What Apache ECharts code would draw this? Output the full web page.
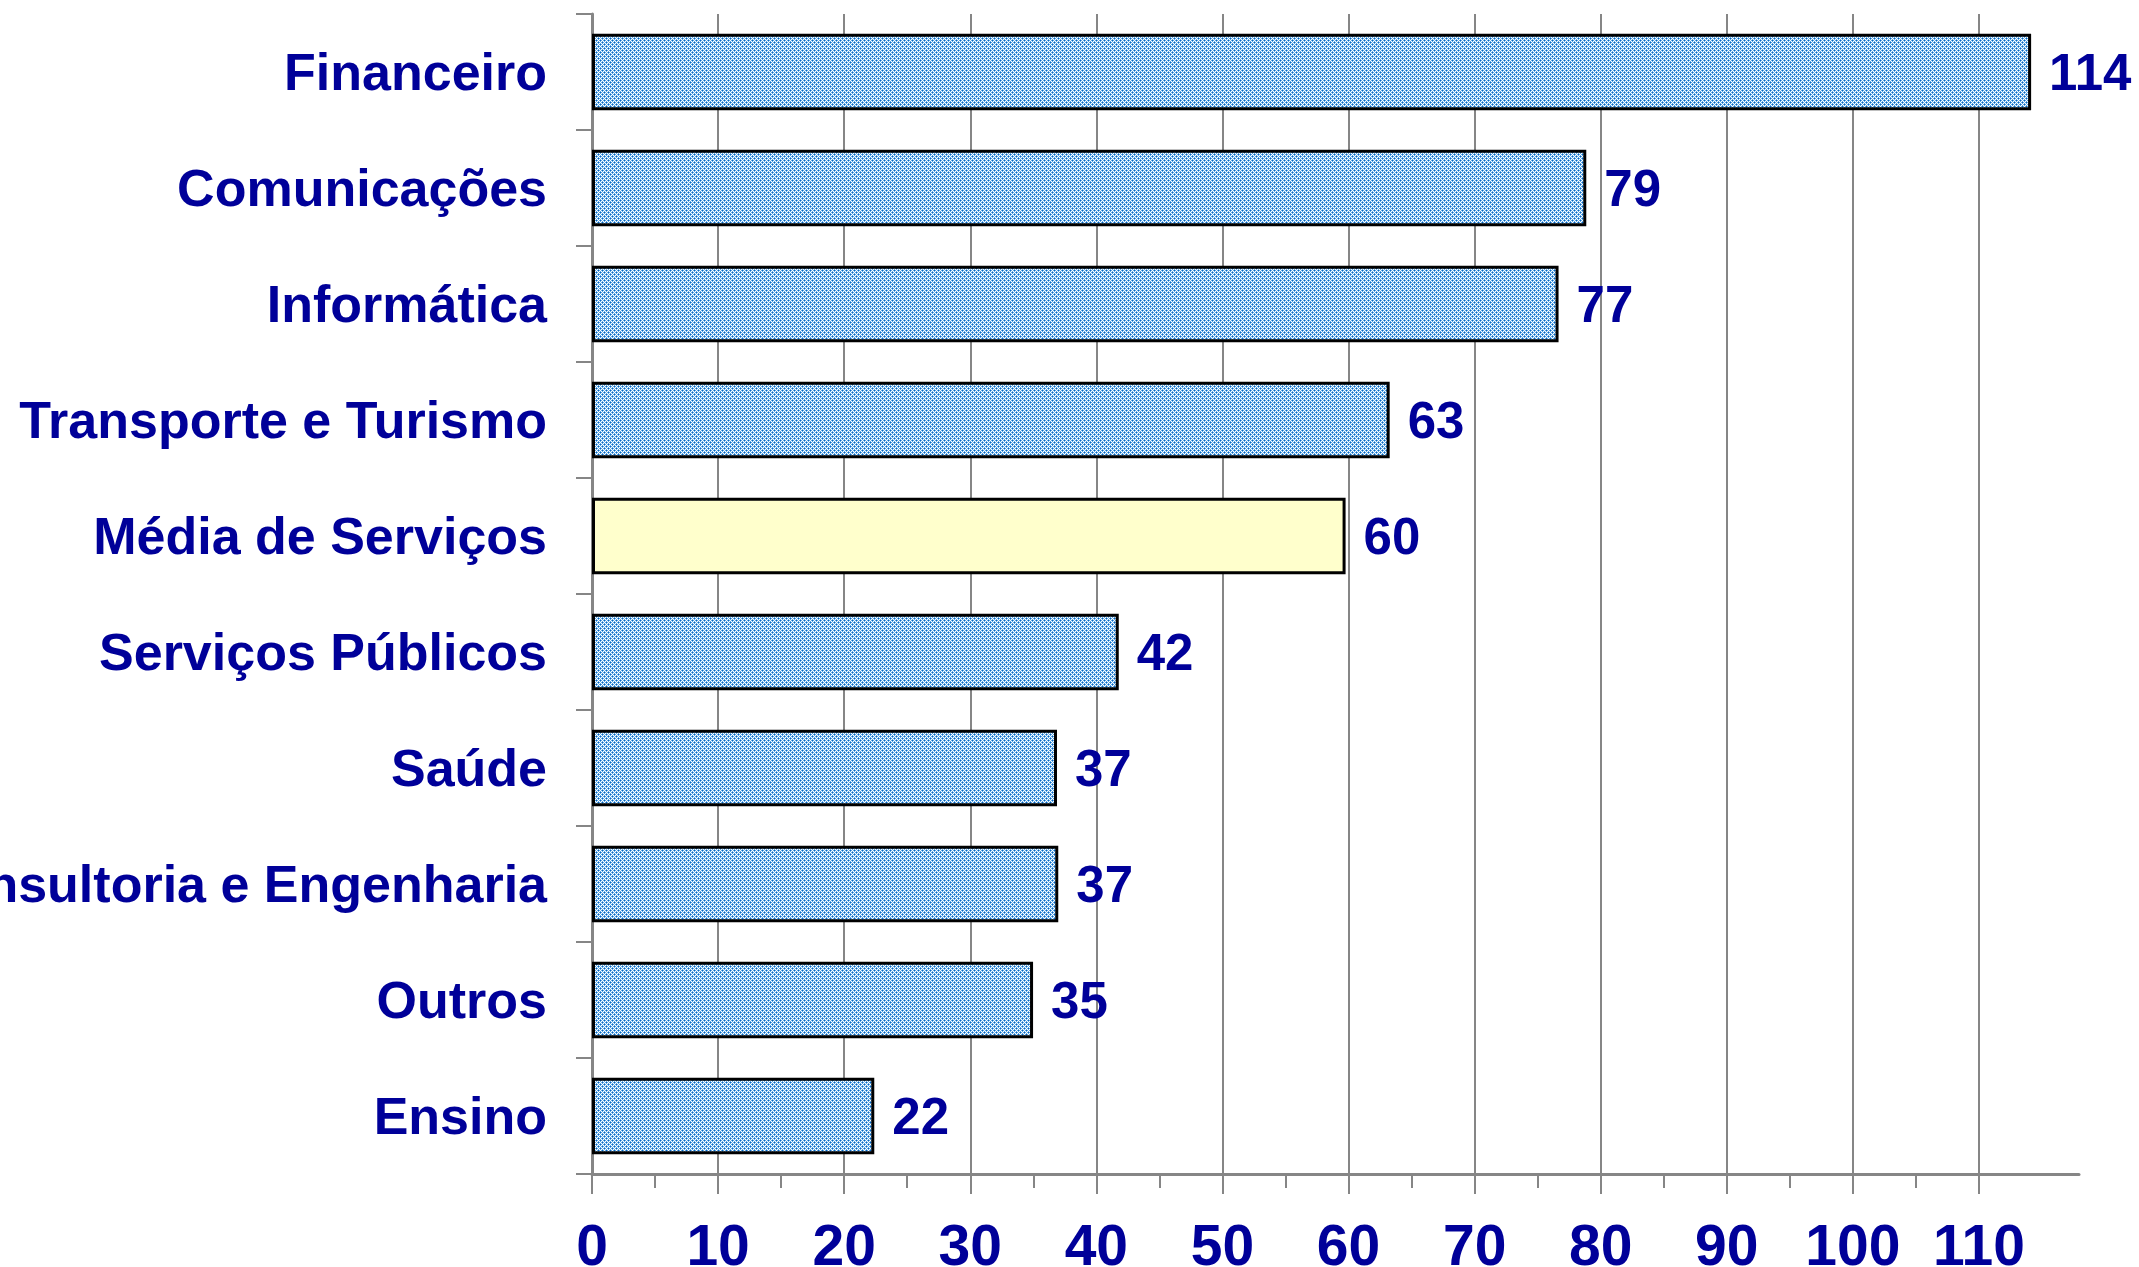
<!DOCTYPE html>
<html>
<head>
<meta charset="utf-8">
<script src="https://cdn.jsdelivr.net/npm/echarts@6/dist/echarts.min.js"></script>
<style>
  html, body { margin: 0; padding: 0; background: #fff; }
  #chart { width: 2139px; height: 1267px; }
</style>
</head>
<body>
<div id="chart"></div>
<script>
var categories = ['Financeiro', 'Comunicações', 'Informática', 'Transporte e Turismo', 'Média de Serviços',
                  'Serviços Públicos', 'Saúde', 'Consultoria e Engenharia', 'Outros', 'Ensino'];
var values = [114.2, 78.9, 76.7, 63.3, 59.8, 41.8, 36.9, 37.0, 35.0, 22.4];
var highlight = 'Média de Serviços';

// blue dotted fill like the excel pattern
function makePattern() {
    var tile = [
        'DLWL',
        'LWLW',
        'WLDL',
        'LWLW'
    ];
    var colors = { D: '#0a66c2', L: '#62a9e4', W: '#ffffff' };
    var c = document.createElement('canvas');
    c.width = 4; c.height = 4;
    var ctx = c.getContext('2d');
    for (var y = 0; y < 4; y++) {
        for (var x = 0; x < 4; x++) {
            ctx.fillStyle = colors[tile[y].charAt(x)];
            ctx.fillRect(x, y, 1, 1);
        }
    }
    return c;
}

var textColor = '#000099';
var gridColor = '#868686';
var pattern = { image: makePattern(), repeat: 'repeat' };

var barData = [];
for (var i = 0; i < categories.length; i++) {
    var item = { value: values[i] };
    if (categories[i] == highlight) {
        item.itemStyle = { color: '#ffffcc' };
    }
    barData.push(item);
}

var myChart = echarts.init(document.getElementById('chart'));
var option = {
    backgroundColor: '#ffffff',
    animation: false,
    textStyle: { fontFamily: 'Liberation Sans, Arial, sans-serif' },
    grid: [
        { left: 592, top: 14, width: 1487, height: 1160, containLabel: false, outerBoundsMode: 'none' },
        { left: 592, top: 14, width: 1387, height: 1160, containLabel: false, outerBoundsMode: 'none' }
    ],
    xAxis: [
        {
            gridIndex: 0, type: 'value', min: 0, max: 118,
            axisLine: { show: true, lineStyle: { color: gridColor, width: 3 } },
            axisTick: { show: false },
            axisLabel: { show: false },
            splitLine: { show: false }
        },
        {
            gridIndex: 1, type: 'value', min: 0, max: 110, interval: 10,
            axisLine: { show: false },
            axisTick: { show: true, length: 20, lineStyle: { color: gridColor, width: 2 } },
            minorTick: { show: true, splitNumber: 2, length: 14, lineStyle: { color: gridColor, width: 2 } },
            splitLine: { show: true, lineStyle: { color: gridColor, width: 2 } },
            axisLabel: { color: textColor, fontSize: 57, fontWeight: 'bold', margin: 47 }
        }
    ],
    yAxis: [
        {
            gridIndex: 0, type: 'category', inverse: true, data: categories,
            axisLine: { show: true, lineStyle: { color: gridColor, width: 3 } },
            axisTick: { show: true, length: 16, lineStyle: { color: gridColor, width: 2 } },
            axisLabel: { color: textColor, fontSize: 52, fontWeight: 'bold', margin: 45,
                         verticalAlign: 'top', lineHeight: 8 },
            splitLine: { show: false }
        },
        { gridIndex: 1, type: 'category', inverse: true, data: categories, show: false }
    ],
    series: [{
        type: 'bar',
        xAxisIndex: 0,
        yAxisIndex: 0,
        data: barData,
        barCategoryGap: '34%',
        itemStyle: { color: pattern, borderColor: '#000000', borderWidth: 3 },
        label: {
            show: true, position: 'right', distance: 18, offset: [0, 4],
            color: textColor, fontSize: 51, fontWeight: 'bold',
            formatter: function (p) { return Math.round(p.value); }
        }
    }]
};
myChart.setOption(option);
</script>
</body>
</html>
